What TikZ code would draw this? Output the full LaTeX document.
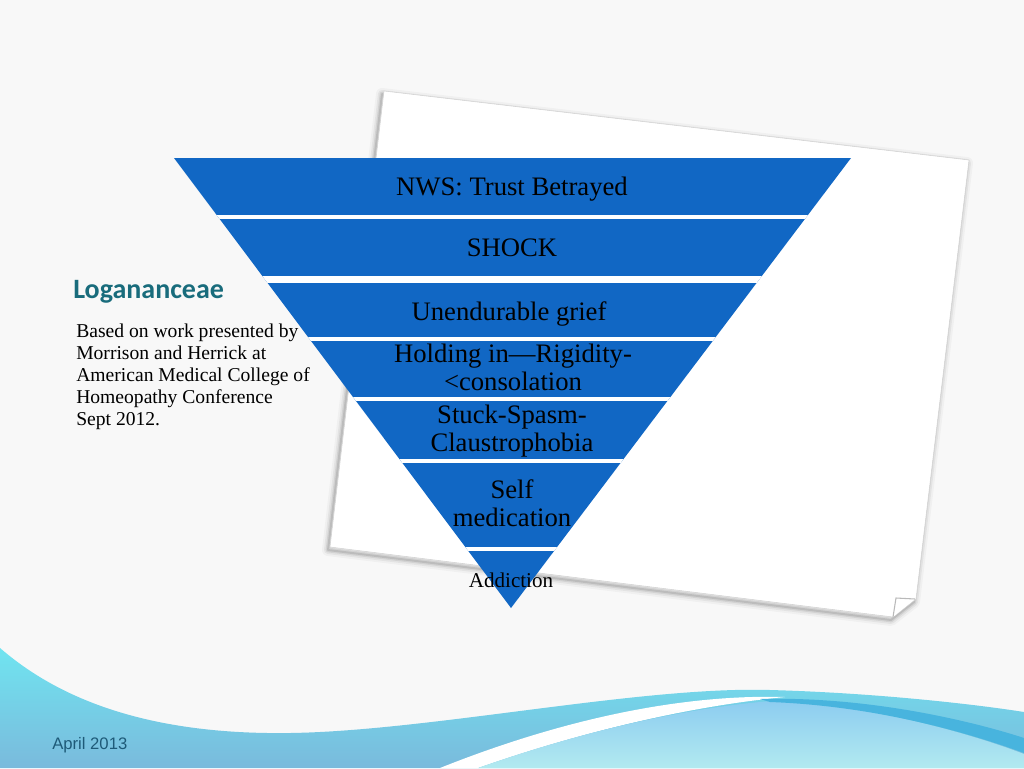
\documentclass[tikz,border=0pt]{standalone}
\usepackage{fontspec}
\setmainfont{Liberation Serif}
\newfontfamily\headfont{Carlito}
\newfontfamily\footfont{Liberation Sans}
\definecolor{bgc}{RGB}{248,248,248}
\definecolor{bandc}{RGB}{17,103,196}
\definecolor{titlec}{RGB}{25,108,124}
\definecolor{footc}{RGB}{30,90,120}
\definecolor{cyanA}{RGB}{112,228,240}
\definecolor{cyanB}{RGB}{122,186,220}
\definecolor{blueA}{RGB}{140,204,240}
\definecolor{blueB}{RGB}{178,234,240}
\definecolor{ribbon}{RGB}{72,180,222}
\def\paperpath{(384,91) -- (969,160) -- (916,599) -- (893,617) -- (330,547) -- cycle}
\begin{document}
\begin{tikzpicture}[x=0.75pt,y=-0.75pt,
  bandtext/.style={font=\fontsize{20}{21}\selectfont, text=black, inner sep=0pt, anchor=base, align=center},
  gapline/.style={white, line width=2.7pt},
  notetext/.style={font=\fontsize{14.7}{16.4}\selectfont, text=black, inner sep=0pt, anchor=base west, align=left}]
\useasboundingbox (0,0) rectangle (1024,768);
\fill[bgc] (0,0) rectangle (1024,768);
% bottom waves
\shade[top color=cyanA, bottom color=cyanB]
  (0,648) .. controls (60,700) and (150,735) .. (290,733)
  .. controls (430,731) and (640,686) .. (770,690)
  .. controls (880,693) and (980,705) .. (1024,712)
  -- (1024,768) -- (0,768) -- cycle;
\fill[white]
  (440,768) .. controls (560,720) and (680,694) .. (785,697)
  .. controls (690,706) and (580,732) .. (478,768) -- cycle;
\shade[top color=blueA, bottom color=blueB]
  (478,768) .. controls (580,732) and (690,706) .. (785,700)
  .. controls (880,708) and (975,735) .. (1024,754)
  -- (1024,768) -- cycle;
\fill[ribbon]
  (760,699) .. controls (870,696) and (975,722) .. (1024,738)
  -- (1024,753) .. controls (975,735) and (880,706) .. (770,702) -- cycle;
% paper sheet with soft shadow
\foreach \w/\o in {9/0.03,6/0.05,3.5/0.07,1.5/0.1}
  \draw[shift={(-2,3)}, line width=\w pt, black, opacity=\o, line join=round] \paperpath;
\fill[white] \paperpath;
\draw[gray!35, line width=0.4pt] \paperpath;
\filldraw[fill=white, draw=gray!55, line width=0.8pt] (893,617) -- (896,598) -- (915,599);
% inverted pyramid
\fill[bandc] (174,158) -- (851,158) -- (511,608) -- cycle;
\begin{scope}
  \clip (174,158) -- (851,158) -- (511,608) -- cycle;
  \draw[gapline] (150,217) -- (880,217);
  \draw[gapline, line width=4.8pt] (150,279.5) -- (880,279.5);
  \draw[gapline] (150,339) -- (880,339);
  \draw[gapline] (150,399) -- (880,399);
  \draw[gapline] (150,461) -- (880,461);
  \draw[gapline] (150,549) -- (880,549);
\end{scope}
\node[bandtext] (t1) at (512,195) {NWS: Trust Betrayed};
\node[bandtext] (t2) at (512,256) {SHOCK};
\node[bandtext] (t3) at (509,320) {Unendurable grief};
\node[bandtext] (t4) at (513,390) {Holding in—Rigidity-\\<consolation};
\node[bandtext] (t5) at (512,451) {Stuck-Spasm-\\Claustrophobia};
\node[bandtext] (t6) at (512,526) {Self\\medication};
\node[bandtext, font=\fontsize{15.8}{17}\selectfont] (t7) at (511,587) {Addiction};
% left texts
\node[font=\headfont\bfseries\fontsize{21}{24}\selectfont, text=titlec, inner sep=0pt, anchor=base west] (title) at (73,298) {Logananceae};
\node[notetext] (note) at (76,425) {Based on work presented by\\Morrison and Herrick at\\American Medical College of\\Homeopathy Conference\\Sept 2012.};
\node[font=\footfont\fontsize{12.5}{14}\selectfont, text=footc, inner sep=0pt, anchor=base west] (date) at (52,749) {April 2013};
\end{tikzpicture}
\end{document}
